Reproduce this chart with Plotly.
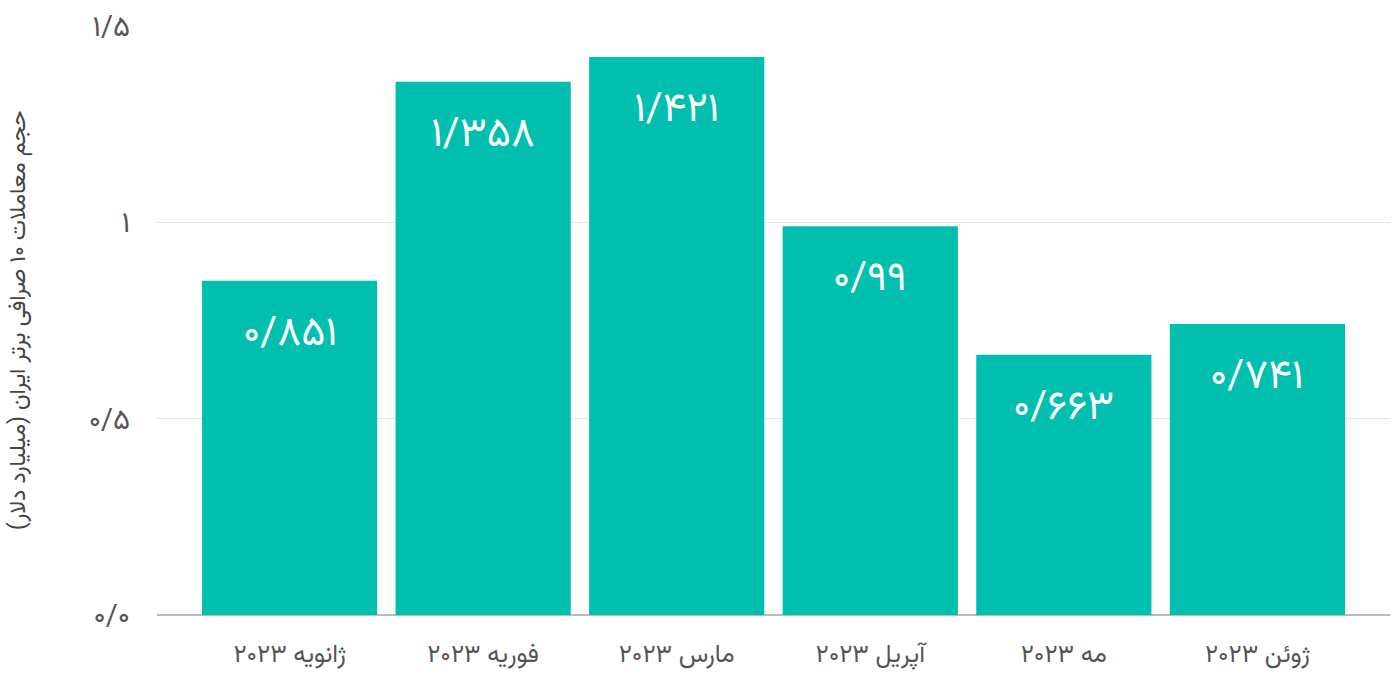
import plotly.graph_objects as go

# Monthly trading volume of the top 10 Iranian exchanges (billion USD)
months = ["ژانویه ۲۰۲۳", "فوریه ۲۰۲۳", "مارس ۲۰۲۳", "آپریل ۲۰۲۳", "مه ۲۰۲۳", "ژوئن ۲۰۲۳"]
volumes = [0.851, 1.358, 1.421, 0.99, 0.663, 0.741]
y_tick_values = [0, 0.5, 1, 1.5]
y_tick_labels = ["۰/۰", "۰/۵", "۱", "۱/۵"]
y_title = "\u200fحجم معاملات ۱۰ صرافی برتر ایران (میلیارد دلار)\u200f"

PERSIAN_DIGITS = str.maketrans("0123456789.", "۰۱۲۳۴۵۶۷۸۹/")


def to_persian(v):
    s = f"{v:.3f}".rstrip("0").rstrip(".")
    return s.translate(PERSIAN_DIGITS)


FONT = "Vazirmatn, 'DejaVu Sans', 'Noto Sans', sans-serif"
BAR_COLOR = "#00BFAF"

fig = go.Figure()
fig.add_trace(go.Bar(
    x=list(range(len(months))),
    y=volumes,
    marker=dict(color=BAR_COLOR, line=dict(width=0)),
    width=0.905,
    hoverinfo="skip",
))

for i, v in enumerate(volumes):
    fig.add_annotation(
        x=i, y=v, text=to_persian(v),
        showarrow=False, yanchor="middle", yshift=-54,
        font=dict(family=FONT, size=41, color="white"),
    )

fig.update_layout(
    width=1397, height=677,
    margin=dict(l=157, r=7, t=26, b=62),
    paper_bgcolor="white", plot_bgcolor="white",
    showlegend=False,
    font=dict(family=FONT, color="#555"),
    xaxis=dict(
        tickvals=list(range(len(months))), ticktext=months,
        range=[-0.685, len(months) - 1 + 0.685],
        showgrid=False, zeroline=False, showline=False,
        ticks="", tickfont=dict(size=25, color="#555"),
        ticklabelstandoff=21, automargin=False,
    ),
    yaxis=dict(
        range=[0, 1.5],
        tickvals=y_tick_values, ticktext=y_tick_labels,
        showgrid=True, gridcolor="#e6e6e6", gridwidth=1,
        zeroline=True, zerolinecolor="#bbbbbb", zerolinewidth=1.5,
        showline=False, ticks="",
        tickfont=dict(size=29, color="#555"),
        ticklabelstandoff=26, automargin=False,
        title=dict(text=y_title, font=dict(size=23, color="#444"), standoff=56),
    ),
)

fig.write_html("out.html")
